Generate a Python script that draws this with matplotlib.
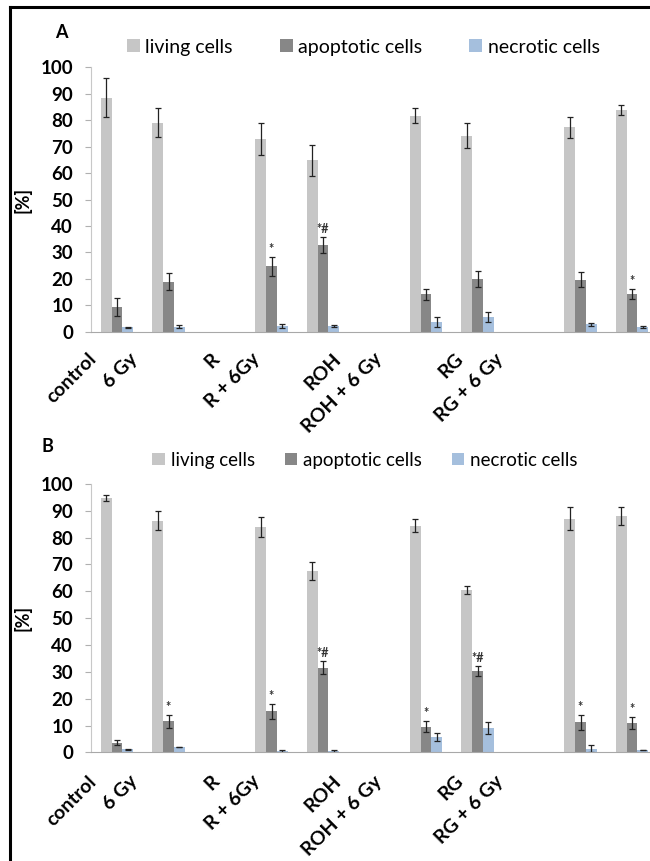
import matplotlib
matplotlib.use("Agg")
import matplotlib.pyplot as plt
from matplotlib.lines import Line2D
import numpy as np

plt.rcParams['font.family'] = ['Lato', 'DejaVu Sans']

# Groups and values (mean and error, in %)
groups = ['control', '6 Gy', 'R', 'R + 6Gy', 'ROH', 'ROH + 6 Gy', 'RG', 'RG + 6 Gy']
series = ['living cells', 'apoptotic cells', 'necrotic cells']

living_a = [88.5, 79.0, 72.8, 64.8, 81.7, 74.1, 77.3, 83.7]
living_a_err = [7.3, 5.5, 6.0, 6.0, 2.8, 4.7, 4.0, 1.9]
apop_a = [9.5, 19.0, 24.7, 32.7, 14.1, 19.8, 19.7, 14.1]
apop_a_err = [3.4, 3.2, 3.6, 3.0, 2.0, 3.0, 2.8, 1.9]
necr_a = [1.7, 1.9, 2.2, 2.2, 3.8, 5.6, 2.8, 1.8]
necr_a_err = [0.2, 0.6, 0.8, 0.5, 1.9, 1.9, 0.5, 0.4]
marks_a = ['', '', '*', '*#', '', '', '', '*']

living_b = [94.8, 86.3, 83.9, 67.6, 84.5, 60.5, 87.1, 88.0]
living_b_err = [1.0, 3.5, 3.7, 3.3, 2.4, 1.6, 4.2, 3.3]
apop_b = [3.6, 11.5, 15.3, 31.5, 9.6, 30.3, 11.2, 10.8]
apop_b_err = [0.9, 2.3, 2.7, 2.4, 2.0, 1.9, 2.7, 2.2]
necr_b = [1.1, 2.0, 0.5, 0.5, 5.7, 9.1, 1.4, 0.9]
necr_b_err = [0.2, 0.1, 0.3, 0.3, 1.4, 2.3, 1.4, 0.1]
marks_b = ['', '*', '*', '*#', '*', '*#', '*', '*']

colors = ['#c6c6c6', '#878787', '#a5bfdd']

# pairs of groups with an empty slot in between
pos = np.array([i + i // 2 for i in range(len(groups))])
w = 0.21

fig = plt.figure(figsize=(6.5, 8.61), dpi=100)


def panel(rect, vals, errs, marks, leg_xy, leg_size, colspace, label_y):
    ax = fig.add_axes(rect)
    for k, (v, e) in enumerate(zip(vals, errs)):
        ax.bar(pos + (k - 1) * w, v, w, color=colors[k], label=series[k],
               yerr=e, error_kw=dict(ecolor='#222222', elinewidth=0.9,
                                     capsize=2.5, capthick=0.9))
    for x, v, e, m in zip(pos, vals[1], errs[1], marks):
        if m:
            ax.text(x, v + e + 0.8, m, ha='center', va='bottom',
                    fontsize=9, fontweight='bold', color='#333333')
    ax.set_xlim(-0.5, 10.5)
    ax.set_ylim(0, 100)
    ax.set_yticks(range(0, 101, 10))
    ax.tick_params(axis='y', length=4, color='#b0b0b0', labelsize=13.5, pad=9)
    for t in ax.get_yticklabels():
        t.set_fontweight('bold')
    ax.set_xticks([])
    for s in ['top', 'right']:
        ax.spines[s].set_visible(False)
    ax.spines['left'].set_color('#c8c8c8')
    ax.spines['bottom'].set_color('#a8a8a8')
    # category labels (slightly compressed as in the source figure)
    for x, g in zip(pos, groups):
        ax.text(0.79 * x - 0.33, label_y, g, rotation=45, ha='right', va='top',
                fontsize=14, fontweight='bold',
                transform=ax.get_xaxis_transform())
    ax.set_ylabel('[%]', fontsize=13, fontweight='bold')
    ax.yaxis.set_label_coords(-0.105, 0.5)
    ax.legend(loc='center', bbox_to_anchor=leg_xy, bbox_transform=fig.transFigure,
              ncol=3, frameon=False, fontsize=leg_size, handlelength=0.67,
              handleheight=0.67, handletextpad=0.3, columnspacing=colspace)
    return ax


left = 91.25 / 650
width = 566.5 / 650
panel([left, 0.6147, width, 0.3071], [living_a, apop_a, necr_a],
      [living_a_err, apop_a_err, necr_a_err], marks_a,
      (0.559, 0.9454), 14, 2.4, -0.07)
panel([left, 0.1262, width, 0.3117], [living_b, apop_b, necr_b],
      [living_b_err, apop_b_err, necr_b_err], marks_b,
      (0.5615, 0.4657), 13.5, 1.6, -0.075)

fig.text(61 / 650, 1 - 32 / 861, 'A', fontsize=13, fontweight='bold',
         ha='center', va='center')
fig.text(47 / 650, 1 - 447 / 861, 'B', fontsize=13, fontweight='bold',
         ha='center', va='center')

# frame lines of the original panel
fig.add_artist(Line2D([10 / 650, 10 / 650], [0, 1 - 7 / 861], color='black',
                      lw=2.2, transform=fig.transFigure))
fig.add_artist(Line2D([10 / 650, 1], [1 - 7 / 861, 1 - 7 / 861], color='black',
                      lw=2.2, transform=fig.transFigure))

fig.savefig('out.png', dpi=100)
